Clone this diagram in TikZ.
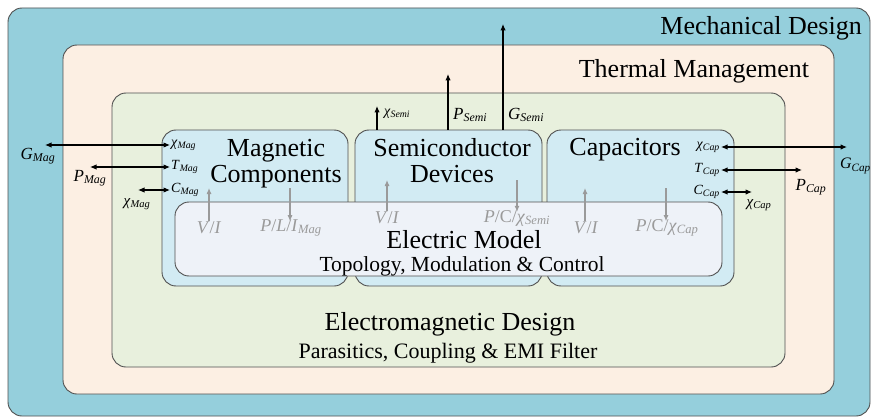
\documentclass[tikz,border=0pt]{standalone}
\usepackage{fontspec}
\setmainfont{Liberation Serif}
\usetikzlibrary{arrows.meta}
\definecolor{mechc}{HTML}{95CFDC}
\definecolor{thermc}{HTML}{FCEFE3}
\definecolor{emc}{HTML}{E8F0DD}
\definecolor{compc}{HTML}{D2EBF3}
\definecolor{elecc}{HTML}{EEF2F8}
\definecolor{edgec}{HTML}{505050}
\definecolor{grayc}{HTML}{9A9A9A}
\newcommand\lb[2]{\textit{#1}\textsubscript{\textit{#2}}}
\begin{document}
\begin{tikzpicture}[x=1pt,y=-1pt,
  bx/.style={draw=edgec,line width=0.9pt,rounded corners=14pt,inner sep=0pt},
  big/.style={font=\fontsize{26}{28}\selectfont, inner sep=0pt},
  mid/.style={font=\fontsize{22}{24}\selectfont, inner sep=0pt},
  lab/.style={font=\fontsize{17}{19}\selectfont, inner sep=1pt},
  slab/.style={font=\fontsize{14}{16}\selectfont, inner sep=1pt},
  glab/.style={font=\fontsize{18}{20}\selectfont, text=grayc, inner sep=1pt},
  arr/.style={line width=1.1pt, -{Latex[length=6.5pt,width=5.5pt]}},
  darr/.style={line width=1.1pt, {Latex[length=6.5pt,width=5.5pt]}-{Latex[length=6.5pt,width=5.5pt]}},
  garr/.style={line width=1.1pt, draw=grayc, -{Latex[length=6pt,width=5pt]}},
]
\useasboundingbox (0,0) rectangle (872,417);
\fill[white] (0,0) rectangle (872,417);
% boxes
\node[bx,fill=mechc,minimum width=862pt,minimum height=408pt] (mech) at (439,212) {};
\node[bx,fill=thermc,minimum width=771pt,minimum height=349pt] (therm) at (448.5,219.5) {};
\node[bx,fill=emc,minimum width=673pt,minimum height=274pt] (em) at (448.5,230) {};
\node[bx,fill=compc,minimum width=186pt,minimum height=156pt] (mag) at (255,208) {};
\node[bx,fill=compc,minimum width=187pt,minimum height=156pt] (semi) at (448.5,208) {};
\node[bx,fill=compc,minimum width=187pt,minimum height=156pt] (cap) at (640.5,208) {};
\node[bx,fill=elecc,minimum width=547pt,minimum height=74pt] (elec) at (448.5,239) {};
% titles
\node[big,anchor=base east] (tmech) at (862,35) {Mechanical Design};
\node[big,anchor=base] (ttherm) at (694,78) {Thermal Management};
\node[big,anchor=base] (tmag1) at (276,157) {Magnetic};
\node[big,anchor=base] (tmag2) at (276,182) {Components};
\node[big,anchor=base] (tsemi1) at (452,157) {Semiconductor};
\node[big,anchor=base] (tsemi2) at (452,182) {Devices};
\node[big,anchor=base] (tcap) at (625,155) {Capacitors};
\node[big,anchor=base] (telec1) at (464,248) {Electric Model};
\node[mid,anchor=base,font=\fontsize{21.5}{23}\selectfont] (telec2) at (462,271) {Topology, Modulation \& Control};
\node[big,anchor=base] (tem1) at (450,330) {Electromagnetic Design};
\node[mid,anchor=base] (tem2) at (448,358) {Parasitics, Coupling \& EMI Filter};
% left labels and arrows
\node[lab] (gmag) at (38,156) {\lb{G}{Mag}};
\node[lab] (pmag) at (90,178) {\lb{P}{Mag}};
\node[slab,font=\fontsize{15}{17}\selectfont] (xmagl) at (137,204) {\lb{χ}{Mag}};
\node[slab,anchor=west] (xmag) at (170,145) {\lb{χ}{Mag}};
\node[slab,anchor=west] (tmag) at (170,167) {\lb{T}{Mag}};
\node[slab,anchor=west] (cmag) at (170,190) {\lb{C}{Mag}};
\coordinate (xmagE) at (45,145);
\coordinate (tmagE) at (90,167);
\coordinate (cmagE) at (138,190);
\draw[darr] (xmagE) -- (xmag.west);
\draw[darr] (tmagE) -- (tmag.west);
\draw[darr] (cmagE) -- (cmag.west);
% right labels and arrows
\node[slab,anchor=east] (xcap) at (721,147) {\lb{χ}{Cap}};
\node[slab,anchor=east] (tcapl) at (721,170) {\lb{T}{Cap}};
\node[slab,anchor=east] (ccap) at (721,192) {\lb{C}{Cap}};
\coordinate (xcapE) at (847,147);
\coordinate (tcapE) at (802,170);
\coordinate (ccapE) at (752,192);
\draw[darr] (xcap.east) -- (xcapE);
\draw[darr] (tcapl.east) -- (tcapE);
\draw[darr] (ccap.east) -- (ccapE);
\node[lab,anchor=east,inner sep=0pt,font=\fontsize{16}{18}\selectfont] (gcap) at (871,166) {\lb{G}{Cap}};
\node[lab] (pcap) at (811,187) {\lb{P}{Cap}};
\node[slab,font=\fontsize{15}{17}\selectfont] (xcapl) at (759,205) {\lb{χ}{Cap}};
% top arrows
\coordinate (xsT) at (377,106);
\coordinate (psT) at (448,74);
\coordinate (gsT) at (503,24);
\draw[arr] (semi.north -| xsT) -- (xsT);
\draw[arr] (semi.north -| psT) -- (psT);
\draw[arr] (semi.north -| gsT) -- (gsT);
\node[slab,anchor=west] (xsemi) at (383,114) {\lb{χ}{Semi}};
\node[lab,anchor=west] (psemi) at (452,115) {\lb{P}{Semi}};
\node[lab,anchor=west] (gsemi) at (507,115) {\lb{G}{Semi}};
% gray arrows
\node[glab] (vi1) at (209,228) {\textit{V}/\textit{I}};
\node[glab] (pli) at (291,228) {\textit{P}/\textit{L}/\lb{I}{Mag}};
\node[glab] (vi2) at (387,218) {\textit{V}/\textit{I}};
\node[glab] (pcs) at (517,218) {\textit{P}/C/\lb{χ}{Semi}};
\node[glab] (vi3) at (586,228) {\textit{V}/\textit{I}};
\node[glab] (pcc) at (667,228) {\textit{P}/C/\lb{χ}{Cap}};
\coordinate (vi1T) at (209,188);
\coordinate (pliT) at (290,188);
\coordinate (vi2T) at (387,180);
\coordinate (pcsT) at (517,180);
\coordinate (vi3T) at (585,188);
\coordinate (pccT) at (666,188);
\draw[garr] (vi1.north -| vi1T) -- (vi1T);
\draw[garr] (pliT) -- ([yshift=-3pt]pli.north -| pliT);
\draw[garr] (vi2.north -| vi2T) -- (vi2T);
\draw[garr] (pcsT) -- ([yshift=-3pt]pcs.north -| pcsT);
\draw[garr] (vi3.north -| vi3T) -- (vi3T);
\draw[garr] (pccT) -- ([yshift=-3pt]pcc.north -| pccT);
\end{tikzpicture}
\end{document}
